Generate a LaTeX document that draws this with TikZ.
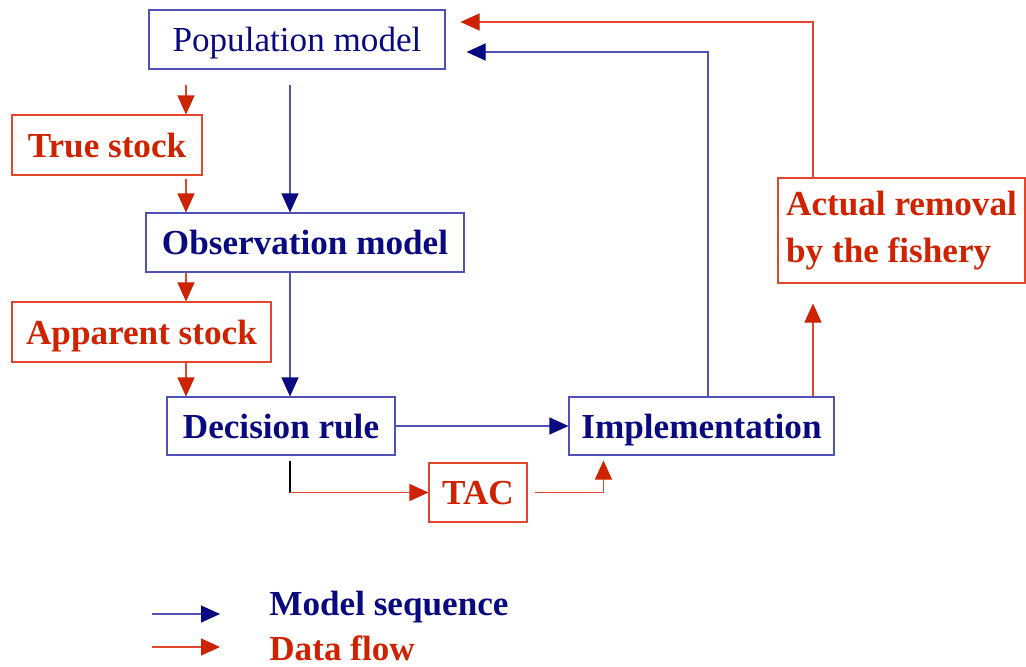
\documentclass[tikz,border=0pt]{standalone}
\usepackage{fontspec}
\setmainfont{Liberation Serif}
\usepackage{tikz}
\usetikzlibrary{arrows.meta}
\definecolor{fishnavy}{RGB}{10,10,128}
\definecolor{fishblue}{RGB}{80,80,185}
\definecolor{fishred}{RGB}{205,35,0}
\definecolor{fishline}{RGB}{228,70,45}

\begin{document}
\begin{tikzpicture}[x=0.2mm,y=-0.2mm,
  modelbox/.style={draw=fishblue,line width=0.6pt,text=fishnavy,inner sep=0pt,text depth=0pt,font=\fontsize{20}{24}\selectfont\bfseries},
  databox/.style={draw=fishline,line width=0.6pt,text=fishred,inner sep=0pt,text depth=0pt,font=\fontsize{20}{24}\selectfont\bfseries},
  modelseq/.style={fishblue,line width=0.6pt,-{Triangle[length=3.8mm,width=3.4mm,color=fishnavy]}},
  dataflow/.style={fishline,line width=0.6pt,-{Triangle[length=3.8mm,width=3.4mm,color=fishred]}},
  legendtext/.style={anchor=west,inner sep=0pt,font=\fontsize{20}{24}\selectfont\bfseries}]
 \useasboundingbox (0,0) rectangle (1026,666);
 \node[modelbox,minimum width=59.2mm,minimum height=11.8mm,font=\fontsize{20}{24}\selectfont] (pop) at (297,39.5) {Population model};
 \node[databox,minimum width=38mm,minimum height=12mm] (true) at (107,145) {True stock};
 \node[modelbox,minimum width=63.6mm,minimum height=11.8mm] (obs) at (305,242.5) {Observation model};
 \node[databox,minimum width=51.8mm,minimum height=12mm] (app) at (141.5,332) {Apparent stock};
 \node[modelbox,minimum width=45.6mm,minimum height=11.6mm] (dec) at (281,426) {Decision rule};
 \node[modelbox,minimum width=53mm,minimum height=11.6mm] (impl) at (701.5,426) {Implementation};
 \node[databox,minimum width=19.6mm,minimum height=11.8mm] (tac) at (478,492.5) {TAC};
 \node[databox,minimum width=49.4mm,minimum height=21mm,align=left,text depth=,font=\fontsize{20}{27}\selectfont\bfseries] (act) at (901.5,230.5) {Actual removal\\by the fishery};

 \coordinate (redx) at (186,0);
 \coordinate (bluex) at (290,0);
 \coordinate (loopx) at (708,0);
 \coordinate (actx) at (813,0);
 \coordinate (tacturn) at (bluex |- tac.west);

 \draw[dataflow,shorten <=3mm] (pop.south -| redx) -- (true.north -| redx);
 \draw[dataflow,shorten <=0.6mm] (true.south -| redx) -- (obs.north -| redx);
 \draw[dataflow] (obs.south -| redx) -- (app.north -| redx);
 \draw[dataflow] (app.south -| redx) -- (dec.north -| redx);
 \draw[modelseq,shorten <=3mm] (pop.south -| bluex) -- (obs.north -| bluex);
 \draw[modelseq] (obs.south -| bluex) -- (dec.north -| bluex);
 \draw[modelseq] (dec.east) -- (impl.west);
 \draw[black,line width=0.6pt,shorten <=1mm] (dec.south -| bluex) -- (tacturn);
 \draw[dataflow] (tacturn) -- (tac.west);
 \draw[dataflow,shorten <=1.4mm,shorten >=1mm] (tac.east) -| ([xshift=7mm]impl.south west);
 \draw[dataflow,shorten >=4mm] (impl.north -| actx) -- (act.south -| actx);
 \draw[dataflow,shorten >=3mm] (act.north -| actx) |- ([yshift=3.5mm]pop.east);
 \draw[modelseq,shorten >=4.2mm] (impl.north -| loopx) |- ([yshift=-2.5mm]pop.east);

 \coordinate (seqa) at (152,614);
 \coordinate (seqb) at (220,614);
 \coordinate (flowa) at (152,647);
 \coordinate (flowb) at (220,647);
 \draw[modelseq] (seqa) -- (seqb);
 \draw[dataflow] (flowa) -- (flowb);
 \node[legendtext,text=fishnavy] (seqtext) at (269,607) {Model sequence};
 \node[legendtext,text=fishred] (flowtext) at (269,648) {Data flow};
\end{tikzpicture}
\end{document}
